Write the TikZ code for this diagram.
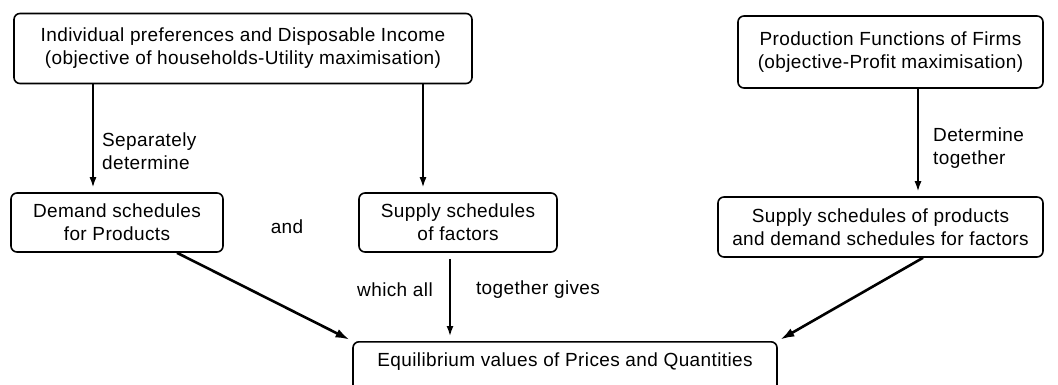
\documentclass[tikz,border=0pt]{standalone}
\usepackage{fontspec}
\setmainfont{Liberation Sans}[LetterSpace=2.0]
\usetikzlibrary{positioning,calc,arrows.meta}

\begin{document}
\begin{tikzpicture}[x=1pt,y=-1pt,
  box/.style={draw,rounded corners=6pt,line width=1.6pt,align=center,inner sep=0pt,font=\fontsize{19}{23}\selectfont},
  lbl/.style={align=left,inner sep=0pt,font=\fontsize{19}{23}\selectfont},
  arr/.style={-{Latex[length=10pt,width=7pt]},line width=1.5pt,shorten >=5pt},
  darr/.style={-{Latex[length=14pt,width=9pt]},line width=2.6pt,shorten >=3pt}]
\clip (0,0) rectangle (1058,385);
%\draw[help lines,step=50] (0,0) grid (1058,385);
\node[box,minimum width=458pt,minimum height=70pt] (hh) at (243,48.5) {Individual preferences and Disposable Income\\(objective of households-Utility maximisation)};
\node[box,minimum width=305pt,minimum height=72pt] (firms) at (890.5,52) {Production Functions of Firms\\(objective-Profit maximisation)};
\node[box,minimum width=212pt,minimum height=59pt] (dem) at (117,222.5) {Demand schedules\\for Products};
\node[box,minimum width=198pt,minimum height=59pt] (supf) at (458,222.5) {Supply schedules\\of factors};
\node[box,minimum width=325pt,minimum height=60pt] (supp) at (880.5,227) {Supply schedules of products\\and demand schedules for factors};
\node[box,anchor=north,minimum width=424pt,text height=14pt,text depth=40pt,inner ysep=11pt] (eq) at (565,341) {Equilibrium values of Prices and Quantities};
% labels
\node[lbl,anchor=west] (sep) at (102,151.5) {Separately\\determine};
\node[lbl,anchor=west] (tog) at (933,148.5) {Determine\\together};
\node[lbl] (and) at (287,227) {and};
\node[lbl] (wall) at (395,290) {which all};
\node[lbl] (gives) at (538,290) {together gives};
% arrow ends
\coordinate (a1) at ([xshift=-24pt]dem.north);
\coordinate (a2) at ([xshift=-35pt]supf.north);
\coordinate (a3) at ([xshift=37.5pt]supp.north);
\coordinate (a4) at ([xshift=-8pt]supf.south);
\draw[arr] (hh.south -| a1) -- (a1);
\draw[arr] (hh.south -| a2) -- (a2);
\draw[arr] (firms.south -| a3) -- (a3);
\draw[arr,shorten <=6pt] (a4) -- (a4 |- eq.north);
\draw[darr] ([xshift=60pt]dem.south) -- (eq.north west);
\draw[darr] ([xshift=42.5pt]supp.south) -- (eq.north east);
\end{tikzpicture}
\end{document}
